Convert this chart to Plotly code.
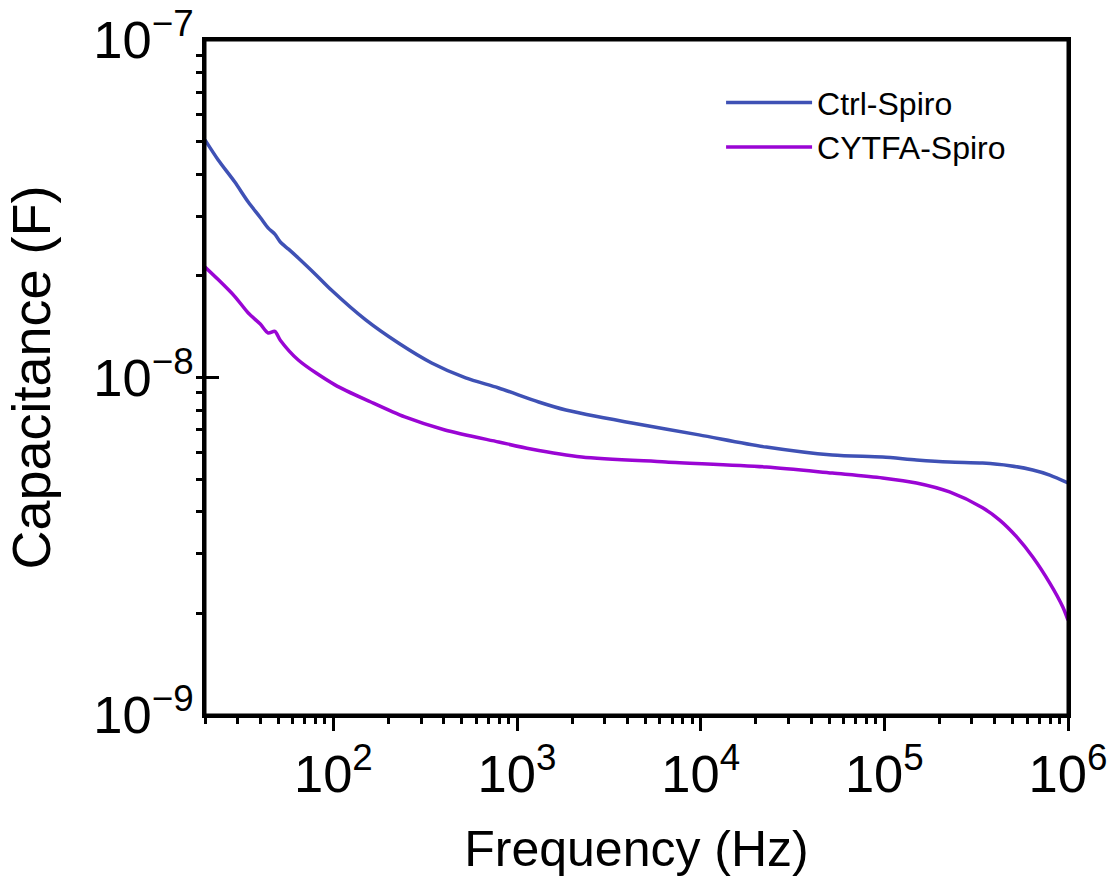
import plotly.graph_objects as go

# Ctrl-Spiro
ctrl_freq = [20, 23.6, 29, 34.4, 40, 44.2, 48, 51.4, 57, 64.4, 80, 97.5, 150, 226, 343,
             525, 794, 1312, 1845, 4227, 9790, 22760, 52100, 97700, 149600,
             226500, 342800, 482000, 642700, 796000, 1000000]
ctrl_cap = [5.06e-8, 4.41e-8, 3.80e-8, 3.31e-8, 2.98e-8, 2.77e-8, 2.66e-8, 2.52e-8, 2.40e-8,
            2.26e-8, 2.02e-8, 1.816e-8, 1.481e-8, 1.265e-8, 1.104e-8,
            9.97e-9, 9.31e-9, 8.46e-9, 8.01e-9, 7.33e-9, 6.76e-9, 6.22e-9, 5.89e-9, 5.81e-9,
            5.70e-9, 5.62e-9, 5.58e-9, 5.48e-9, 5.32e-9, 5.14e-9, 4.87e-9]

# CYTFA-Spiro
cytfa_freq = [20, 23.6, 29, 34.4, 40, 44.2, 48, 51.4, 64.4, 102, 160, 245, 405,
              794, 1190, 2250, 6470, 22760, 52100, 97700, 149600,
              226500, 342800, 424600, 525600, 642700, 796000, 937000, 1000000]
cytfa_cap = [2.125e-8, 1.95e-8, 1.74e-8, 1.553e-8, 1.44e-8, 1.355e-8, 1.37e-8, 1.29e-8,
             1.127e-8, 9.51e-9, 8.46e-9, 7.64e-9, 6.99e-9,
             6.44e-9, 6.14e-9, 5.81e-9, 5.62e-9, 5.43e-9, 5.21e-9, 5.04e-9, 4.87e-9,
             4.58e-9, 4.11e-9, 3.78e-9, 3.37e-9, 2.94e-9, 2.46e-9, 2.09e-9, 1.91e-9]

series_names = ["Ctrl-Spiro", "CYTFA-Spiro"]
series_colors = ["#3F51B5", "#9A05D4"]

FONT = "Arial, Liberation Sans, sans-serif"

fig = go.Figure()
fig.add_trace(go.Scatter(x=ctrl_freq, y=ctrl_cap, mode="lines", name=series_names[0],
                         line=dict(color=series_colors[0], width=3.5, shape="spline", smoothing=0.8)))
fig.add_trace(go.Scatter(x=cytfa_freq, y=cytfa_cap, mode="lines", name=series_names[1],
                         line=dict(color=series_colors[1], width=3.5, shape="spline", smoothing=0.8)))

fig.update_layout(
    width=1115, height=885,
    margin=dict(l=205, r=47, t=40, b=170),
    paper_bgcolor="white", plot_bgcolor="white",
    font=dict(family=FONT, color="black"),
    showlegend=True,
    legend=dict(x=0.598, y=0.948, xanchor="left", yanchor="top",
                bgcolor="rgba(0,0,0,0)", font=dict(size=32, family=FONT),
                tracegroupgap=0, itemwidth=86),
    shapes=[dict(type="rect", xref="paper", yref="paper", x0=0, x1=1, y0=0, y1=1,
                 line=dict(color="black", width=3), layer="above")],
)

fig.update_xaxes(
    type="log", range=[1.301, 6], dtick=1, exponentformat="power",
    showline=True, linewidth=3, linecolor="black", mirror=True,
    ticks="outside", ticklen=13, tickwidth=3, tickcolor="black",
    minor=dict(ticks="outside", ticklen=6, tickwidth=2.5, tickcolor="black", showgrid=False),
    showgrid=False, zeroline=False, automargin=False, ticklabeloverflow="allow",
    tickfont=dict(size=42, family=FONT),
    title=dict(text="Frequency (Hz)", font=dict(size=50, family=FONT), standoff=30),
)
fig.update_yaxes(
    type="log", range=[-9, -7], dtick=1, exponentformat="power",
    showline=True, linewidth=3, linecolor="black", mirror=True,
    ticks="inside", ticklen=14, tickwidth=3, tickcolor="black",
    minor=dict(ticks="outside", ticklen=6, tickwidth=2.5, tickcolor="black", showgrid=False),
    showgrid=False, zeroline=False, automargin=False, ticklabeloverflow="allow",
    tickfont=dict(size=42, family=FONT),
    title=dict(text="Capacitance (F)", font=dict(size=54, family=FONT), standoff=26),
)

fig.write_html("out.html", config={"displayModeBar": False},
               post_script="document.body.style.margin='0';document.body.style.overflow='hidden';")
